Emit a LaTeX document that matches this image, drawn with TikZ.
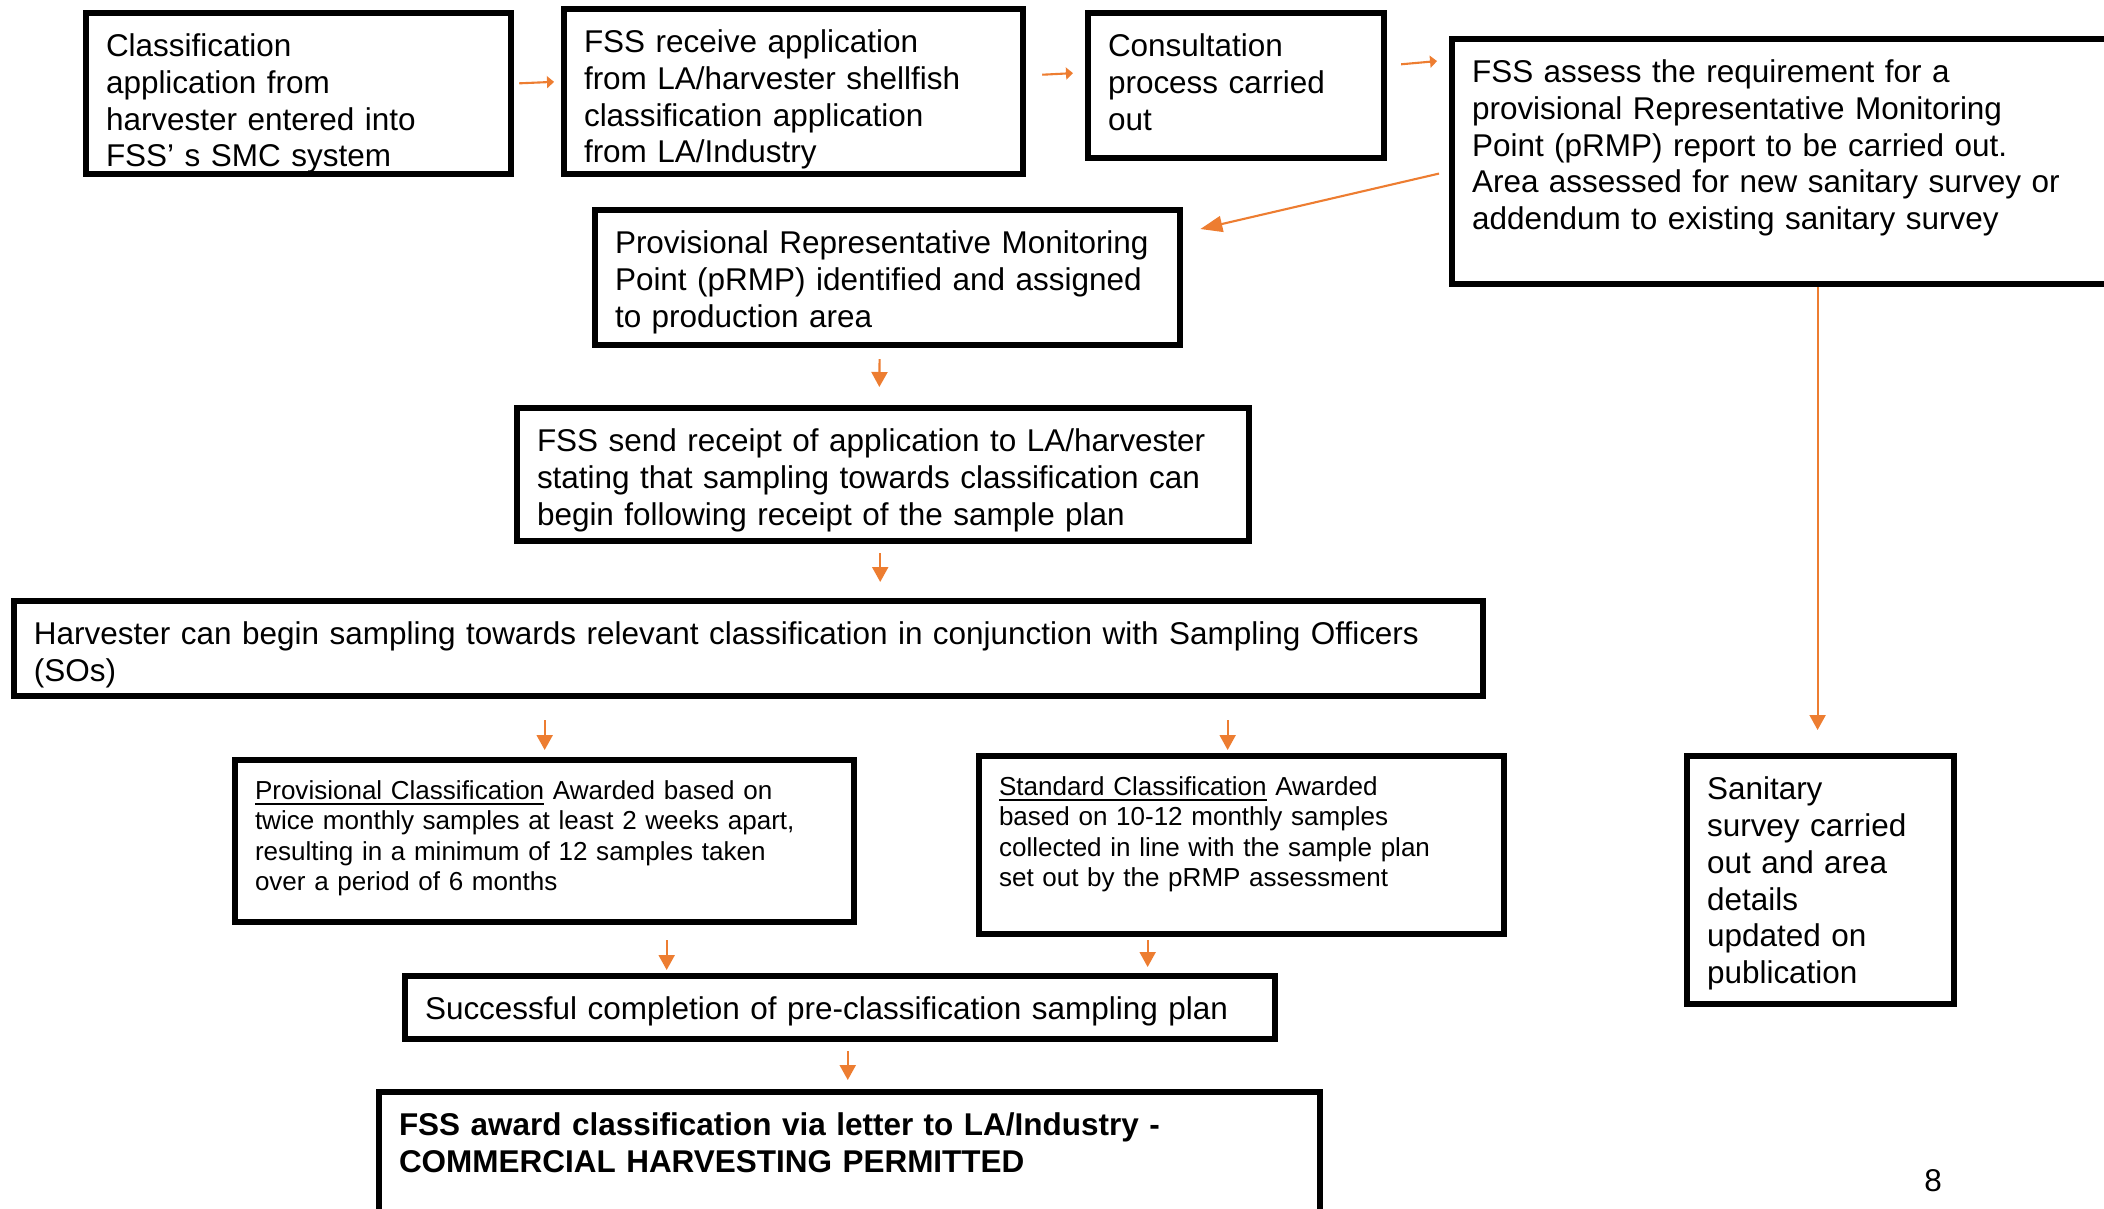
\documentclass[tikz,border=0pt]{standalone}
\usepackage{fontspec}
\setmainfont{Liberation Sans}
\usetikzlibrary{arrows.meta,positioning,calc}
\definecolor{ArrowOrange}{RGB}{237,125,49}
\tikzset{
  flowbox/.style={draw=black,line width=1.7pt,rectangle,anchor=north west,
                  align=left,inner xsep=0.2cm,inner ysep=0.2cm,
                  text height=6.6pt,font=\fontsize{8.95}{10.5}\selectfont},
  smallbox/.style={flowbox,text height=5.4pt,font=\fontsize{7.4}{8.7}\selectfont},
  arr/.style={-{Triangle[length=0.15cm,width=0.16cm]},ArrowOrange,line width=0.6pt},
  arrsm/.style={-{Triangle[length=0.07cm,width=0.12cm]},ArrowOrange,line width=0.6pt},
  arrbig/.style={-{Triangle[length=0.22cm,width=0.16cm]},ArrowOrange,line width=0.6pt},
}
\begin{document}
\begin{tikzpicture}[x=0.01cm,y=-0.01cm]
  \useasboundingbox (0,0) rectangle (2104,1208);
  \clip (0,0) rectangle (2104,1208);

  % top row
  \node[flowbox,text width=3.85cm,text depth=0.978cm] (appl) at (83,10)
    {Classification\\application from\\harvester entered into\\FSS’ s SMC system};
  \node[flowbox,text width=4.19cm,text depth=1.018cm] (recv) at (561,6)
    {FSS receive application\\from LA/harvester shellfish\\classification application\\from LA/Industry};
  \node[flowbox,text width=2.56cm,text depth=0.818cm] (consult) at (1085,10)
    {Consultation\\process carried\\out};
  \node[flowbox,text width=6.50cm,text depth=1.818cm] (assess) at (1449,36)
    {FSS assess the requirement for a\\provisional Representative Monitoring\\Point (pRMP) report to be carried out.\\Area assessed for new sanitary survey or\\addendum to existing sanitary survey};

  % middle column
  \node[flowbox,text width=5.45cm,text depth=0.718cm] (prmp) at (592,207)
    {Provisional Representative Monitoring\\Point (pRMP) identified and assigned\\to production area};
  \node[flowbox,text width=6.92cm,text depth=0.698cm] (receipt) at (514,405)
    {FSS send receipt of application to LA/harvester\\stating that sampling towards classification can\\begin following receipt of the sample plan};
  \node[flowbox,text width=14.28cm,text depth=0.318cm] (sampling) at (11,598)
    {Harvester can begin sampling towards relevant classification in conjunction with Sampling Officers\\(SOs)};

  % classification routes
  \node[smallbox,text width=5.79cm,text depth=1.03cm] (provcls) at (232,757)
    {\underline{Provisional Classification} Awarded based on\\twice monthly samples at least 2 weeks apart,\\resulting in a minimum of 12 samples taken\\over a period of 6 months};
  \node[smallbox,text width=4.85cm,text depth=1.19cm] (stdcls) at (976,753)
    {\underline{Standard Classification} Awarded\\based on 10-12 monthly samples\\collected in line with the sample plan\\set out by the pRMP assessment};
  \node[flowbox,text width=2.27cm,text depth=1.848cm] (sanitary) at (1684,753)
    {Sanitary\\survey carried\\out and area\\details\\updated on\\publication};

  \node[flowbox,text width=8.29cm,text depth=0pt] (complete) at (402,973)
    {Successful completion of pre-classification sampling plan};
  \node[flowbox,text width=9.00cm,text depth=0.968cm] (award) at (376,1089)
    {\textbf{FSS award classification via letter to LA/Industry -}\\\textbf{COMMERCIAL HARVESTING PERMITTED}};

  \node[font=\fontsize{8.95}{10.5}\selectfont] (page) at (1933,1181) {8};

  % connectors
  \draw[arrsm,shorten <=0.05cm,shorten >=0.07cm] ($(appl.east)+(0,-10)$) -- ($(recv.west)+(0,-10)$);
  \draw[arrsm,shorten <=0.16cm,shorten >=0.12cm] ($(recv.east)+(0,-16)$) -- ($(consult.west)+(0,-13)$);
  \draw[arrsm,shorten <=0.14cm,shorten >=0.12cm] ($(consult.east)+(0,-20)$) -- ($(assess.north west)+(0,24)$);
  \draw[arrbig] ($(assess.west)+(-10,12)$) -- ($(prmp.north east)+(17,22)$);
  \draw[arr,shorten <=0.11cm,shorten >=0.18cm] ($(prmp.south)+(-8,0)$) -- ($(receipt.north)+(-4,0)$);
  \draw[arr,shorten <=0.09cm,shorten >=0.16cm] ($(receipt.south)+(-3,0)$) -- ($(receipt.south |- sampling.north)+(-3,0)$);
  \draw[arr,shorten <=0.21cm,shorten >=0.07cm] (sampling.south -| provcls.north) -- (provcls.north);
  \draw[arr,shorten <=0.21cm,shorten >=0.03cm] ($(sampling.south -| stdcls.north)+(-14,0)$) -- ($(stdcls.north)+(-14,0)$);
  \draw[arr,shorten <=0.15cm,shorten >=0.03cm] ($(provcls.south)+(122,0)$) -- ($(provcls.south |- complete.north)+(122,0)$);
  \draw[arr,shorten <=0.03cm,shorten >=0.06cm] ($(stdcls.south)+(-94,0)$) -- ($(stdcls.south |- complete.north)+(-94,0)$);
  \draw[arr,shorten <=0.09cm,shorten >=0.09cm] ($(complete.south)+(8,0)$) -- ($(complete.south |- award.north)+(8,0)$);
  \draw[arr,shorten >=0.23cm] ($(assess.south -| sanitary.north)+(-3,0)$) -- ($(sanitary.north)+(-3,0)$);
\end{tikzpicture}
\end{document}
